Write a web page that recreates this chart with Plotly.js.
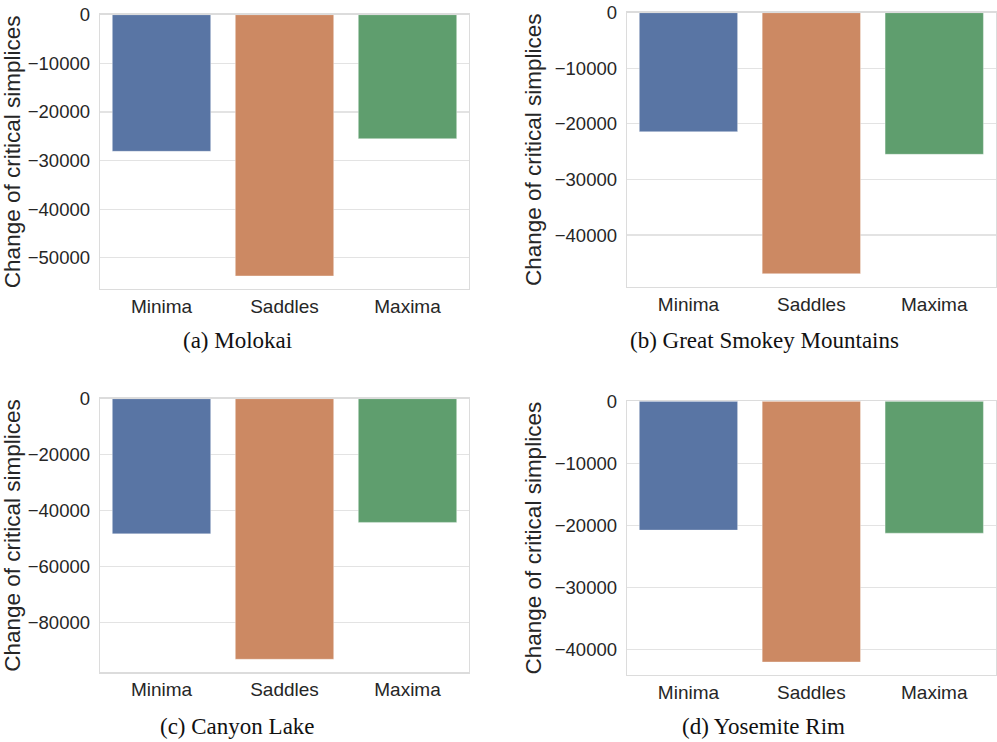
<!DOCTYPE html>
<html>
<head>
<meta charset="utf-8">
<script src="https://cdn.plot.ly/plotly-3.0.1.min.js"></script>
<style>html,body{margin:0;padding:0;background:#fff;}#chart{width:997px;height:742px;}</style>
</head>
<body>
<div id="chart"></div>
<script>
const categories = ["Minima", "Saddles", "Maxima"];
const molokai = [-28100, -53730, -25490];
const smokey = [-21400, -46940, -25470];
const canyon = [-48390, -93300, -44300];
const yosemite = [-20770, -42030, -21260];
const captions = ["(a) Molokai", "(b) Great Smokey Mountains", "(c) Canyon Lake", "(d) Yosemite Rim"];
const ticksA = [0, -10000, -20000, -30000, -40000, -50000];
const ticksB = [0, -10000, -20000, -30000, -40000];
const ticksC = [0, -20000, -40000, -60000, -80000];
const ticksD = [0, -10000, -20000, -30000, -40000];
const barColors = ["#5975a4", "#cc8963", "#5f9e6e"];

const series = [molokai, smokey, canyon, yosemite];
const tickSets = [ticksA, ticksB, ticksC, ticksD];
const xDomains = [[100/997, 469/997], [627/997, 995.7/997], [100/997, 469/997], [627/997, 995.7/997]];
const yDomains = [[1-289/742, 1-14.7/742], [1-286.7/742, 1-12.7/742], [1-672.3/742, 1-398.7/742], [1-675/742, 1-401.3/742]];
const captionPos = [[237, 340], [764, 340], [237, 726], [763, 726]];

const traces = [];
const layout = {
  width: 997, height: 742,
  margin: {l: 0, r: 0, t: 0, b: 0},
  paper_bgcolor: "#fff", plot_bgcolor: "#fff",
  showlegend: false,
  font: {family: "Liberation Sans, Arial, sans-serif", color: "#262626"},
  annotations: []
};

series.forEach((vals, i) => {
  const n = i + 1;
  const xa = "x" + (n === 1 ? "" : n), ya = "y" + (n === 1 ? "" : n);
  traces.push({
    type: "bar", x: categories, y: vals, xaxis: xa, yaxis: ya,
    width: 0.8,
    marker: {color: barColors, line: {color: "rgba(255,255,255,0.35)", width: 1}},
    hoverinfo: "x+y"
  });
  const minV = Math.min(...vals);
  layout["xaxis" + (n === 1 ? "" : n)] = {
    domain: xDomains[i], anchor: ya,
    range: [-0.5, 2.5], type: "category",
    showgrid: false, zeroline: false,
    showline: true, mirror: true, linecolor: "#dcdcdc", linewidth: 1.3,
    ticks: "",
    tickfont: {size: 19, color: "#262626"}
  };
  layout["yaxis" + (n === 1 ? "" : n)] = {
    domain: yDomains[i], anchor: xa,
    range: [minV * 1.05, 0],
    tickmode: "array", tickvals: tickSets[i],
    ticktext: tickSets[i].map(v => String(v).replace("-", "\u2212")),
    showgrid: true, gridcolor: "#e3e3e3", gridwidth: 1.2, zeroline: false,
    showline: true, mirror: true, linecolor: "#dcdcdc", linewidth: 1.3,
    ticks: "outside", ticklen: 5, tickcolor: "rgba(0,0,0,0)",
    tickfont: {size: 18.5, color: "#262626"},
    title: {text: "Change of critical simplices", font: {size: 22.5, color: "#262626"}, standoff: 7}
  };
  layout.annotations.push({
    text: captions[i], xref: "paper", yref: "paper",
    x: captionPos[i][0] / 997, y: 1 - captionPos[i][1] / 742,
    xanchor: "center", yanchor: "middle", showarrow: false,
    font: {family: "Liberation Serif, Times New Roman, serif", size: 23, color: "#111"}
  });
});

Plotly.newPlot("chart", traces, layout, {displayModeBar: false, staticPlot: true});
</script>
</body>
</html>
